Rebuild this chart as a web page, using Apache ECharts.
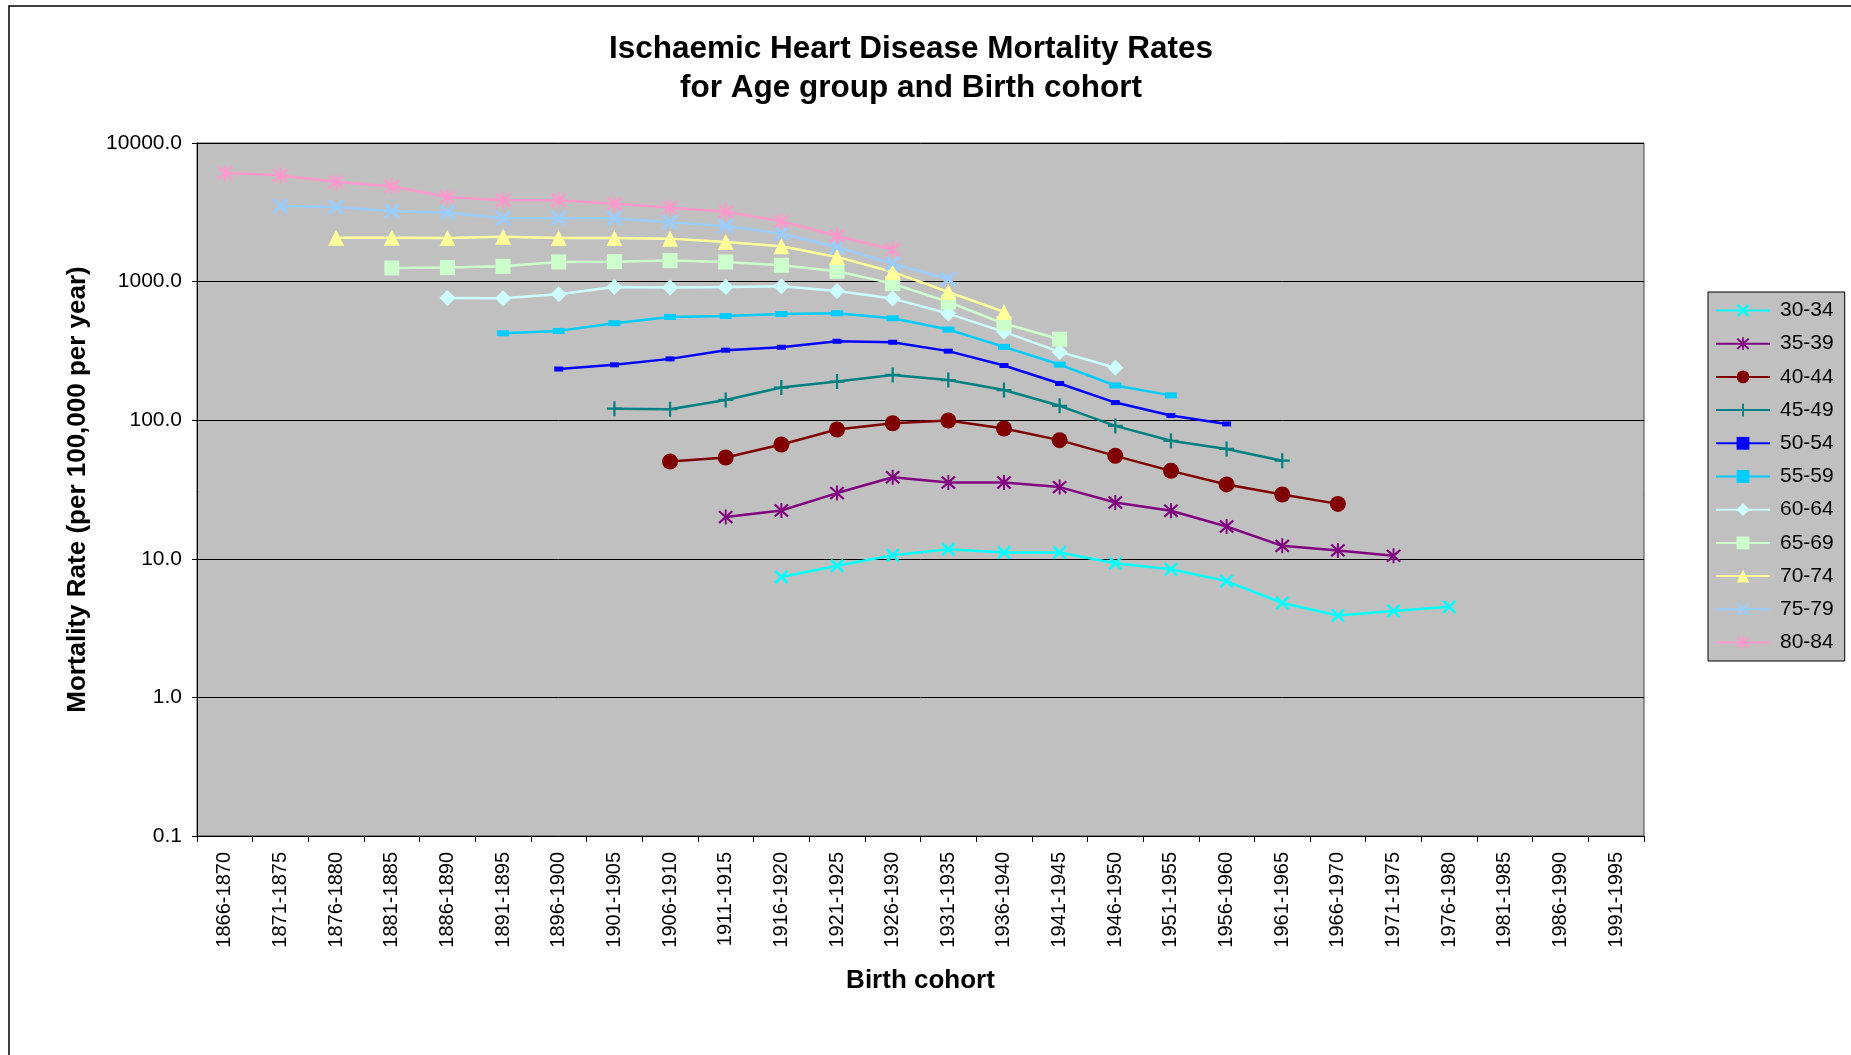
<!DOCTYPE html>
<html>
<head>
<meta charset="utf-8">
<script src="https://cdn.jsdelivr.net/npm/echarts@6/dist/echarts.min.js"></script>
<style>
html,body{margin:0;padding:0;background:#fff;}
#chart{width:1851px;height:1055px;}
</style>
</head>
<body>
<div id="chart"></div>
<script>
const categories = ['1866-1870','1871-1875','1876-1880','1881-1885','1886-1890','1891-1895','1896-1900','1901-1905','1906-1910','1911-1915','1916-1920','1921-1925','1926-1930','1931-1935','1936-1940','1941-1945','1946-1950','1951-1955','1956-1960','1961-1965','1966-1970','1971-1975','1976-1980','1981-1985','1986-1990','1991-1995'];

const yTicks = [0.1, 1, 10, 100, 1000, 10000];

const age30_34 = [null,null,null,null,null,null,null,null,null,null, 7.4, 8.9, 10.6, 11.7, 11.1, 11.1, 9.3, 8.4, 6.9, 4.8, 3.9, 4.2, 4.5];
const age35_39 = [null,null,null,null,null,null,null,null,null, 20.0, 22.3, 29.8, 38.8, 35.5, 35.5, 32.9, 25.5, 22.2, 17.1, 12.4, 11.5, 10.5];
const age40_44 = [null,null,null,null,null,null,null,null, 50.3, 53.8, 66.8, 85.7, 95.1, 99.5, 87.1, 71.8, 55.3, 43.1, 34.4, 29.1, 24.9];
const age45_49 = [null,null,null,null,null,null,null, 121, 120, 140, 172, 190, 212, 195, 165, 127, 91, 71, 62, 51];
const age50_54 = [null,null,null,null,null,null, 234, 251, 277, 320, 336, 371, 365, 315, 248, 184, 134, 108, 94];
const age55_59 = [null,null,null,null,null, 424, 441, 501, 556, 565, 584, 591, 544, 451, 338, 252, 178, 151];
const age60_64 = [null,null,null,null, 762, 758, 810, 915, 905, 915, 926, 857, 754, 588, 434, 311, 239];
const age65_69 = [null,null,null, 1255, 1262, 1290, 1386, 1393, 1417, 1386, 1312, 1187, 967, 713, 498, 384];
const age70_74 = [null,null, 2075, 2075, 2066, 2111, 2066, 2066, 2042, 1932, 1798, 1507, 1174, 842, 604];
const age75_79 = [null, 3515, 3453, 3214, 3146, 2864, 2864, 2864, 2680, 2515, 2219, 1778, 1349, 1045];
const age80_84 = [6081, 5845, 5233, 4870, 4080, 3862, 3862, 3651, 3418, 3190, 2723, 2134, 1702];

const seriesNames = ['30-34','35-39','40-44','45-49','50-54','55-59','60-64','65-69','70-74','75-79','80-84'];
const seriesData = [age30_34, age35_39, age40_44, age45_49, age50_54, age55_59, age60_64, age65_69, age70_74, age75_79, age80_84];

const FONT = '"Liberation Sans", Arial, Helvetica, sans-serif';

const X_PATH = 'path://M0,1.3L1.3,0L10,8.7L8.7,10ZM8.7,0L10,1.3L1.3,10L0,8.7Z';
const STAR_PATH = 'path://M0,1.1L1.1,0L10,8.9L8.9,10ZM8.9,0L10,1.1L1.1,10L0,8.9ZM4.35,-0.6L5.65,-0.6L5.65,10.6L4.35,10.6Z';
const PLUS_PATH = 'path://M4.25,0L5.75,0L5.75,10L4.25,10ZM0,4.25L10,4.25L10,5.75L0,5.75Z';

const styles = [
  {color:'#00FFFF', symbol:X_PATH, size:14},
  {color:'#800080', symbol:STAR_PATH, size:15},
  {color:'#800000', symbol:'circle', size:16},
  {color:'#008080', symbol:PLUS_PATH, size:15},
  {color:'#0000FF', symbol:'rect', size:[9,5]},
  {color:'#00CCFF', symbol:'rect', size:[12,6]},
  {color:'#CCFFFF', symbol:'diamond', size:16},
  {color:'#CCFFCC', symbol:'rect', size:15},
  {color:'#FFFF99', symbol:'triangle', size:16},
  {color:'#99CCFF', symbol:X_PATH, size:16},
  {color:'#FF99CC', symbol:STAR_PATH, size:16}
];

const series = seriesNames.map((name, i) => ({
  name: name,
  type: 'line',
  data: seriesData[i],
  symbol: styles[i].symbol,
  symbolSize: styles[i].size,
  showAllSymbol: true,
  connectNulls: false,
  lineStyle: {color: styles[i].color, width: 2.5},
  itemStyle: {color: styles[i].color, borderWidth: 0},
  emphasis: {disabled: true}
}));

const chart = echarts.init(document.getElementById('chart'), null, {renderer: 'canvas'});
chart.setOption({
  animation: false,
  backgroundColor: '#ffffff',
  textStyle: {fontFamily: FONT},
  title: {
    text: 'Ischaemic Heart Disease Mortality Rates\nfor Age group and Birth cohort',
    left: 911,
    textAlign: 'center',
    top: 30,
    padding: 0,
    textStyle: {fontFamily: FONT, fontSize: 31.5, fontWeight: 'bold', color: '#000', lineHeight: 39}
  },
  graphic: [{
    type: 'rect',
    silent: true,
    z: -10,
    shape: {x: 9, y: 6, width: 1900, height: 1100},
    style: {fill: 'none', stroke: '#000', lineWidth: 1.5}
  }],
  legend: {
    orient: 'vertical',
    left: 1708,
    top: 292,
    itemWidth: 54,
    itemHeight: 16,
    itemGap: 12.2,
    padding: [8, 11, 8, 7],
    backgroundColor: '#C0C0C0',
    borderColor: '#000',
    borderWidth: 1,
    borderRadius: 0,
    selectedMode: false,
    data: seriesNames,
    textStyle: {fontFamily: FONT, fontSize: 21, color: '#000', lineHeight: 16, padding: [0, 0, 0, 5]}
  },
  grid: {
    left: 197, right: 207, top: 143, bottom: 219,
    show: true,
    backgroundColor: '#C0C0C0',
    borderColor: '#404040',
    borderWidth: 1
  },
  xAxis: {
    type: 'category',
    data: categories,
    boundaryGap: true,
    name: 'Birth cohort',
    nameLocation: 'middle',
    nameGap: 145,
    nameTextStyle: {fontFamily: FONT, fontSize: 26, fontWeight: 'bold', color: '#000', verticalAlign: 'middle'},
    axisLine: {lineStyle: {color: '#000', width: 1}},
    axisTick: {show: true, length: 6, lineStyle: {color: '#000'}},
    axisLabel: {rotate: 90, interval: 0, margin: 16, fontFamily: FONT, fontSize: 20, color: '#000'},
    splitLine: {show: false}
  },
  yAxis: {
    type: 'log',
    logBase: 10,
    min: yTicks[0],
    max: yTicks[yTicks.length - 1],
    name: 'Mortality Rate (per 100,000 per year)',
    nameLocation: 'middle',
    nameRotate: 90,
    nameGap: 119,
    nameTextStyle: {fontFamily: FONT, fontSize: 26, fontWeight: 'bold', color: '#000', verticalAlign: 'middle'},
    axisLine: {show: true, lineStyle: {color: '#000', width: 1}},
    axisTick: {show: true, length: 5, lineStyle: {color: '#000'}},
    minorTick: {show: false},
    axisLabel: {
      margin: 15, fontFamily: FONT, fontSize: 21, color: '#000',
      formatter: function (v) { return Number(v).toFixed(1); }
    },
    splitLine: {show: true, lineStyle: {color: '#000', width: 1}}
  },
  series: series
});
</script>
</body>
</html>
